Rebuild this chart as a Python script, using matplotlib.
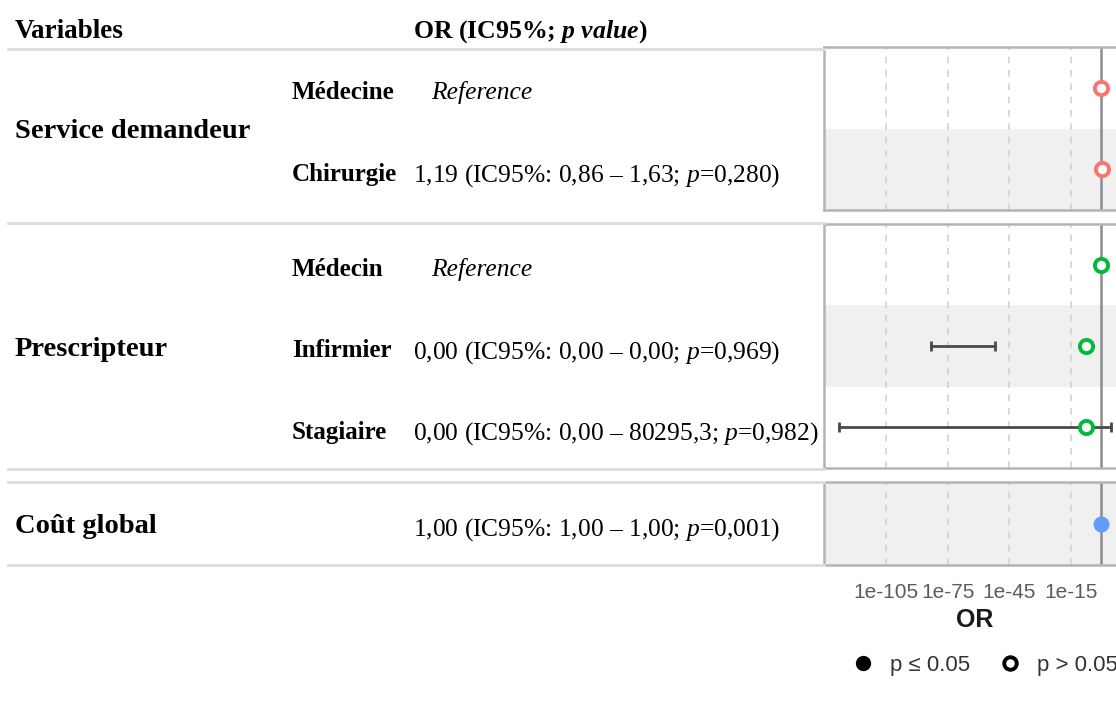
import matplotlib
matplotlib.use("Agg")
import matplotlib.pyplot as plt
from matplotlib.lines import Line2D
from matplotlib.transforms import blended_transform_factory
import numpy as np

plt.rcParams["mathtext.fontset"] = "custom"
plt.rcParams["mathtext.rm"] = "Liberation Serif"
plt.rcParams["mathtext.it"] = "Liberation Serif:italic"
plt.rcParams["mathtext.bf"] = "Liberation Serif:bold"
plt.rcParams["mathtext.bfit"] = "Liberation Serif:italic:bold"

# data, one list per group
groups = ["Service demandeur", "Prescripteur", "Coût global"]
levels = [["Médecine", "Chirurgie"], ["Médecin", "Infirmier", "Stagiaire"], [""]]
or_est = [[1.0, 1.19], [1.0, 3e-8, 3e-8], [1.0]]
ci_low = [[np.nan, 0.86], [np.nan, 1e-83, 1e-128], [1.0]]
ci_high = [[np.nan, 1.63], [np.nan, 1e-52, 80295.3], [1.0]]
signif = [[False, False], [False, False, False], [True]]
or_text = [["Reference", "1,19 (IC95%: 0,86 – 1,63; $\\mathit{p}$=0,280)"],
           ["Reference", "0,00 (IC95%: 0,00 – 0,00; $\\mathit{p}$=0,969)",
            "0,00 (IC95%: 0,00 – 80295,3; $\\mathit{p}$=0,982)"],
           ["1,00 (IC95%: 1,00 – 1,00; $\\mathit{p}$=0,001)"]]
group_colors = ["#F8766D", "#00BA38", "#619CFF"]
xticks = [1e-105, 1e-75, 1e-45, 1e-15]
xtick_labels = ["1e-105", "1e-75", "1e-45", "1e-15"]

W, H = 1116, 711
fig = plt.figure(figsize=(W / 100, H / 100), dpi=100)

def fy(py):
    return 1 - py / H

# panel pixel extents (top, bottom)
panels = [(47, 210), (224, 468), (482, 565)]
x0, x1 = 824, 1126
serif = "Liberation Serif"
sans = "Liberation Sans"

# table lines
for py in [49, 223, 469, 482, 565]:
    fig.add_artist(Line2D([8 / W, x0 / W], [fy(py), fy(py)], color="#dcdcdc", lw=2))

fig.text(15 / W, fy(28), "Variables", fontsize=19.5, fontweight="bold", family=serif, va="center_baseline")
fig.text(413 / W, fy(28), "OR (IC95%; $\\mathbfit{p\\ value}$)", fontsize=18.5, fontweight="bold",
         family=serif, va="center_baseline")

row = 0
for g, (top, bot) in enumerate(panels):
    ax = fig.add_axes([x0 / W, fy(bot), (x1 - x0) / W, (bot - top) / H])
    n = len(levels[g])
    ax.set_xscale("log")
    ax.set_xlim(10 ** -135.3, 10 ** 12.0)
    ax.set_ylim(n - 0.5, -0.5)
    for i in range(n):
        if (row + i) % 2 == 1:
            ax.axhspan(i - 0.5, i + 0.5, color="#f0f0f0", lw=0, zorder=0)
    for xt in xticks:
        ax.axvline(xt, color="#d2d2d2", lw=1.2, ls=(0, (4, 4)), zorder=1)
    ax.axvline(1, color="#8c8c8c", lw=1.8, zorder=2)
    for i in range(n):
        lo, hi = ci_low[g][i], ci_high[g][i]
        if not np.isnan(lo):
            ax.plot([lo, hi], [i, i], color="#4a4a4a", lw=2, marker="|", ms=7, mew=2, zorder=3)
        if signif[g][i]:
            ax.plot(or_est[g][i], i, "o", ms=10.5, color=group_colors[g], mec=group_colors[g], zorder=4)
        else:
            ax.plot(or_est[g][i], i, "o", ms=9.5, mfc="white", mec=group_colors[g], mew=2.8, zorder=4)
    ax.set_yticks([])
    ax.set_xticks(xticks)
    ax.minorticks_off()
    ax.tick_params(axis="x", length=0, labelsize=15, labelcolor="#5a5a6a", pad=13)
    if g < len(panels) - 1:
        ax.set_xticklabels([])
    else:
        ax.set_xticklabels(xtick_labels, family=sans)
        ax.set_xlabel("OR", fontsize=18, fontweight="bold", family=sans, color="#1a1a1a", labelpad=4)
    for s in ax.spines.values():
        s.set_color("#b4b4b4")
        s.set_linewidth(1.8)

    tr = blended_transform_factory(fig.transFigure, ax.transData)
    ax.text(15 / W, (n - 1) / 2, groups[g], transform=tr, fontsize=20.5, fontweight="bold",
            family=serif, va="center_baseline", clip_on=False)
    for i in range(n):
        yt = i + 0.03
        if levels[g][i]:
            ax.text(292 / W, yt, levels[g][i], transform=tr, fontsize=18, fontweight="bold",
                    family=serif, va="center_baseline", clip_on=False)
        txt = or_text[g][i]
        if txt == "Reference":
            ax.text(431 / W, yt, txt, transform=tr, fontsize=18.4, style="italic",
                    family=serif, va="center_baseline", clip_on=False)
        else:
            ax.text(413 / W, yt, txt, transform=tr, fontsize=18.4, family=serif,
                    va="center_baseline", clip_on=False)
    row += n

handles = [Line2D([], [], ls="none", marker="o", ms=10, color="black"),
           Line2D([], [], ls="none", marker="o", ms=9, mfc="white", mec="black", mew=2.8)]
fig.legend(handles, ["p ≤ 0.05", "p > 0.05"], loc="center left", ncol=2, frameon=False,
           bbox_to_anchor=(830 / W, fy(665)), prop={"family": sans, "size": 16},
           handletextpad=0.6, columnspacing=1.2, handlelength=1.2, labelcolor="#333333")

fig.savefig("out.png", dpi=100)
